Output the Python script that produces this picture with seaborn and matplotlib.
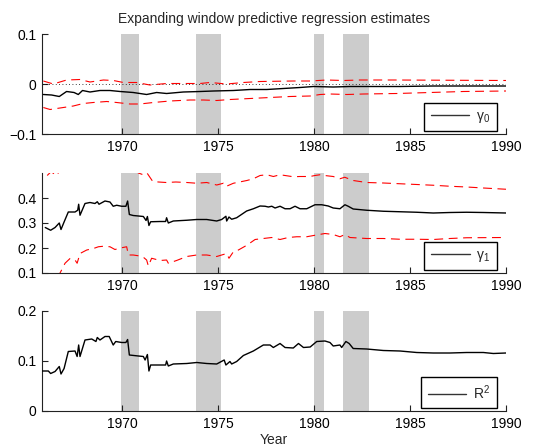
import numpy as np
import pandas as pd
import matplotlib
matplotlib.use("Agg")
import matplotlib.pyplot as plt
import seaborn as sns

# ---------------- data ----------------
title = "Expanding window predictive regression estimates"
xlabel = "Year"
xticks = [1970, 1975, 1980, 1985, 1990]
xticklabels = ["1970", "1975", "1980", "1985", "1990"]
xlim = (1965.83, 1990.0)

recessions = [(1969.92, 1970.88), (1973.83, 1975.17), (1980.0, 1980.5), (1981.5, 1982.88)]

# gamma_0 panel
g0_years = [1965.9, 1966.33, 1966.73, 1967.11, 1967.5, 1967.72, 1967.94, 1968.33, 1968.85, 1969.37,
            1969.9, 1970.58, 1971.28, 1971.8, 1972.32, 1973.19, 1974.06, 1974.76, 1975.8, 1976.67,
            1977.54, 1978.4, 1979.27, 1979.97, 1981.0, 1981.87, 1982.74, 1984.48, 1986.2, 1990.0]
g0_est = [-0.021, -0.022, -0.025, -0.015, -0.017, -0.021, -0.013, -0.016, -0.013, -0.013,
          -0.015, -0.017, -0.021, -0.017, -0.019, -0.016, -0.015, -0.014, -0.013, -0.011,
          -0.011, -0.009, -0.007, -0.005, -0.006, -0.005, -0.005, -0.005, -0.004, -0.004]
g0_up_years = [1965.9, 1966.42, 1967.11, 1967.81, 1968.33, 1969.03, 1969.55, 1970.07, 1970.76, 1971.45,
               1972.32, 1973.36, 1974.06, 1974.58, 1975.45, 1976.32, 1977.19, 1978.92, 1979.8, 1980.66,
               1981.53, 1982.4, 1984.14, 1990.0]
g0_up = [0.006, 0.000, 0.008, 0.009, 0.004, 0.008, 0.007, 0.003, 0.003, -0.002,
         0.001, 0.001, 0.001, 0.003, 0.000, 0.003, 0.005, 0.006, 0.006, 0.008,
         0.007, 0.008, 0.008, 0.007]
g0_lo_years = [1965.9, 1966.25, 1966.77, 1967.46, 1967.98, 1968.5, 1969.2, 1969.72, 1970.41, 1970.93,
               1971.63, 1972.5, 1973.54, 1974.24, 1974.93, 1975.63, 1976.67, 1977.71, 1978.75, 1979.8,
               1980.32, 1980.84, 1981.71, 1982.58, 1984.31, 1986.05, 1987.78, 1990.0]
g0_lo = [-0.047, -0.051, -0.048, -0.044, -0.039, -0.037, -0.035, -0.037, -0.040, -0.040,
         -0.037, -0.034, -0.032, -0.032, -0.033, -0.031, -0.029, -0.027, -0.025, -0.024,
         -0.021, -0.020, -0.021, -0.020, -0.019, -0.017, -0.015, -0.014]

# gamma_1 panel
g1_years = [1966.0, 1966.28, 1966.51, 1966.73, 1966.82, 1966.98, 1967.2, 1967.55, 1967.69, 1967.74,
            1967.81, 1968.07, 1968.33, 1968.59, 1968.71, 1968.8, 1969.11, 1969.37, 1969.54, 1969.72,
            1969.98, 1970.2, 1970.29, 1970.38, 1970.58, 1970.85, 1971.11, 1971.25, 1971.32, 1971.4,
            1971.49, 1971.98, 1972.27, 1972.32, 1972.41, 1972.67, 1973.37, 1973.89, 1974.41, 1974.93,
            1975.19, 1975.41, 1975.45, 1975.57, 1975.71, 1975.97, 1976.49, 1976.84, 1977.19, 1977.45,
            1977.62, 1977.8, 1977.97, 1978.23, 1978.49, 1978.75, 1979.01, 1979.27, 1979.62, 1980.05,
            1980.4, 1980.74, 1981.0, 1981.35, 1981.61, 1981.78, 1982.04, 1982.74, 1983.61, 1984.48,
            1985.35, 1986.21, 1987.08, 1987.95, 1988.82, 1990.0]
g1_est = [0.282, 0.271, 0.282, 0.300, 0.274, 0.304, 0.344, 0.344, 0.351, 0.375,
          0.331, 0.378, 0.382, 0.378, 0.385, 0.375, 0.388, 0.384, 0.367, 0.371,
          0.367, 0.367, 0.388, 0.334, 0.330, 0.328, 0.326, 0.310, 0.326, 0.290,
          0.305, 0.306, 0.306, 0.321, 0.300, 0.308, 0.311, 0.314, 0.314, 0.308,
          0.314, 0.327, 0.308, 0.324, 0.315, 0.321, 0.348, 0.357, 0.368, 0.367,
          0.364, 0.367, 0.360, 0.367, 0.357, 0.357, 0.367, 0.357, 0.357, 0.373,
          0.373, 0.368, 0.360, 0.357, 0.373, 0.367, 0.356, 0.351, 0.347, 0.345,
          0.343, 0.340, 0.342, 0.343, 0.342, 0.340]
g1_up_years = [1966.1, 1966.3, 1966.6, 1966.9, 1967.2, 1970.5, 1970.85, 1971.1, 1971.3, 1971.6,
               1971.9, 1972.3, 1972.8, 1973.37, 1973.89, 1974.41, 1974.93, 1975.28, 1975.41, 1975.8,
               1976.5, 1976.84, 1977.19, 1977.54, 1977.88, 1978.23, 1978.92, 1979.27, 1979.79, 1980.05,
               1980.31, 1980.66, 1981.0, 1981.35, 1981.6, 1982.04, 1982.74, 1983.61, 1984.48, 1985.35,
               1986.21, 1987.08, 1987.95, 1988.82, 1990.0]
g1_up = [0.490, 0.505, 0.490, 0.530, 0.560, 0.520, 0.500, 0.493, 0.500, 0.466,
         0.464, 0.462, 0.464, 0.462, 0.459, 0.462, 0.452, 0.459, 0.446, 0.459,
         0.470, 0.477, 0.490, 0.493, 0.486, 0.493, 0.485, 0.486, 0.486, 0.490,
         0.493, 0.489, 0.486, 0.477, 0.483, 0.470, 0.462, 0.460, 0.457, 0.454,
         0.451, 0.447, 0.444, 0.440, 0.435]
g1_lo_years = [1966.1, 1966.77, 1967.03, 1967.29, 1967.55, 1967.66, 1967.81, 1968.16, 1968.51, 1968.77,
               1969.03, 1969.37, 1969.63, 1969.98, 1970.24, 1970.33, 1970.58, 1970.93, 1971.11, 1971.28,
               1971.37, 1971.54, 1971.98, 1972.32, 1972.41, 1972.84, 1973.37, 1973.89, 1974.41, 1974.93,
               1975.45, 1975.57, 1975.8, 1976.06, 1976.5, 1976.93, 1977.36, 1977.8, 1978.23, 1978.66,
               1979.1, 1979.62, 1980.05, 1980.57, 1981.0, 1981.35, 1981.61, 1981.87, 1982.74, 1983.61,
               1984.48, 1985.35, 1986.21, 1987.08, 1987.95, 1990.0]
g1_lo = [0.040, 0.100, 0.139, 0.158, 0.152, 0.139, 0.178, 0.192, 0.198, 0.205,
         0.207, 0.205, 0.194, 0.201, 0.205, 0.172, 0.172, 0.168, 0.163, 0.152,
         0.128, 0.159, 0.150, 0.152, 0.139, 0.150, 0.166, 0.172, 0.172, 0.166,
         0.178, 0.159, 0.185, 0.192, 0.211, 0.234, 0.238, 0.242, 0.234, 0.242,
         0.245, 0.245, 0.251, 0.258, 0.254, 0.245, 0.254, 0.242, 0.238, 0.238,
         0.235, 0.235, 0.234, 0.238, 0.241, 0.242]

# R^2 panel
r2_years = [1965.83, 1966.16, 1966.28, 1966.51, 1966.73, 1966.82, 1966.98, 1967.2, 1967.55, 1967.66,
            1967.74, 1967.81, 1968.07, 1968.42, 1968.64, 1968.71, 1968.85, 1969.11, 1969.33, 1969.54,
            1969.67, 1969.98, 1970.2, 1970.29, 1970.38, 1970.85, 1971.11, 1971.2, 1971.32, 1971.4,
            1971.49, 1971.98, 1972.27, 1972.32, 1972.41, 1972.67, 1973.37, 1973.89, 1974.41, 1974.93,
            1975.32, 1975.41, 1975.62, 1975.71, 1975.97, 1976.32, 1976.84, 1977.36, 1977.71, 1977.88,
            1978.23, 1978.49, 1978.92, 1979.19, 1979.45, 1979.8, 1980.14, 1980.57, 1980.83, 1981.0,
            1981.35, 1981.44, 1981.66, 1981.83, 1982.04, 1982.74, 1983.61, 1984.48, 1985.35, 1986.21,
            1987.08, 1987.95, 1988.82, 1989.34, 1990.0]
r2_est = [0.080, 0.080, 0.075, 0.079, 0.089, 0.074, 0.085, 0.119, 0.120, 0.109,
          0.132, 0.109, 0.142, 0.144, 0.139, 0.147, 0.142, 0.149, 0.149, 0.132,
          0.139, 0.137, 0.137, 0.143, 0.112, 0.110, 0.109, 0.102, 0.113, 0.080,
          0.092, 0.092, 0.092, 0.100, 0.090, 0.094, 0.095, 0.097, 0.095, 0.094,
          0.102, 0.092, 0.099, 0.094, 0.099, 0.111, 0.120, 0.132, 0.132, 0.127,
          0.135, 0.127, 0.126, 0.135, 0.127, 0.128, 0.139, 0.140, 0.137, 0.130,
          0.132, 0.127, 0.139, 0.135, 0.125, 0.124, 0.121, 0.120, 0.117, 0.116,
          0.116, 0.117, 0.117, 0.115, 0.116]

panels = [
    dict(est=(g0_years, g0_est), up=(g0_up_years, g0_up), lo=(g0_lo_years, g0_lo),
         ylim=(-0.1, 0.1), yticks=[-0.1, 0.0, 0.1], yticklabels=["\u22120.1", "0", "0.1"],
         label="\u03b3$_0$", zero=True),
    dict(est=(g1_years, g1_est), up=(g1_up_years, g1_up), lo=(g1_lo_years, g1_lo),
         ylim=(0.1, 0.5), yticks=[0.1, 0.2, 0.3, 0.4], yticklabels=["0.1", "0.2", "0.3", "0.4"],
         label="\u03b3$_1$", zero=False),
    dict(est=(r2_years, r2_est), up=None, lo=None,
         ylim=(0.0, 0.2), yticks=[0.0, 0.1, 0.2], yticklabels=["0", "0.1", "0.2"],
         label="R$^2$", zero=False),
]

# ---------------- style ----------------
sns.set_style("ticks")
plt.rcParams["font.family"] = ["Liberation Sans", "DejaVu Sans"]
plt.rcParams["mathtext.fontset"] = "custom"
plt.rcParams["mathtext.rm"] = "Liberation Sans"
plt.rcParams["mathtext.it"] = "Liberation Sans:italic"

fig = plt.figure(figsize=(5.37, 4.46), dpi=100)
left, width = 42 / 537, 464 / 537
tops = [34, 173, 311]
h = 100

for i, (p, top) in enumerate(zip(panels, tops)):
    ax = fig.add_axes([left, 1 - (top + h) / 446, width, h / 446])
    for a, b in recessions:
        ax.axvspan(a, b, color="#cccccc", lw=0, zorder=0)
    if p["zero"]:
        ax.axhline(0, color="black", lw=0.6, ls=(0, (1, 3)), zorder=1)
    for key in ("up", "lo"):
        if p[key] is not None:
            df = pd.DataFrame({"year": p[key][0], "val": p[key][1]})
            sns.lineplot(data=df, x="year", y="val", ax=ax, color="red",
                         lw=0.8, linestyle=(0, (8, 5)), zorder=2)
    df = pd.DataFrame({"year": p["est"][0], "val": p["est"][1]})
    sns.lineplot(data=df, x="year", y="val", ax=ax, color="black", lw=1.0,
                 label=p["label"], zorder=3)
    ax.set_xlim(*xlim)
    ax.set_ylim(*p["ylim"])
    ax.set_xticks(xticks)
    ax.set_xticklabels(xticklabels)
    ax.set_yticks(p["yticks"])
    ax.set_yticklabels(p["yticklabels"])
    ax.set_xlabel("")
    ax.set_ylabel("")
    for s in ("top", "right"):
        ax.spines[s].set_visible(False)
    for s in ("left", "bottom"):
        ax.spines[s].set_color("#222222")
        ax.spines[s].set_linewidth(0.8)
    ax.tick_params(direction="in", length=4, width=0.8, labelsize=10, colors="#222222",
                   labelcolor="black", pad=4)
    leg = ax.legend(loc="lower right", bbox_to_anchor=(0.98, 0.03), frameon=True,
                    fancybox=False, fontsize=10, handlelength=2.8, borderpad=0.45,
                    handletextpad=0.5, borderaxespad=0.0)
    for ln in leg.get_lines():
        ln.set_color("#333333")
    leg.get_frame().set_edgecolor("black")
    leg.get_frame().set_linewidth(1.0)
    leg.get_frame().set_facecolor("white")
    leg.get_frame().set_alpha(1.0)
    if i == 0:
        ax.set_title(title, fontsize=10, pad=8)
    if i == 2:
        ax.set_xlabel(xlabel, fontsize=10, labelpad=2)

fig.savefig("out.png", dpi=100)
